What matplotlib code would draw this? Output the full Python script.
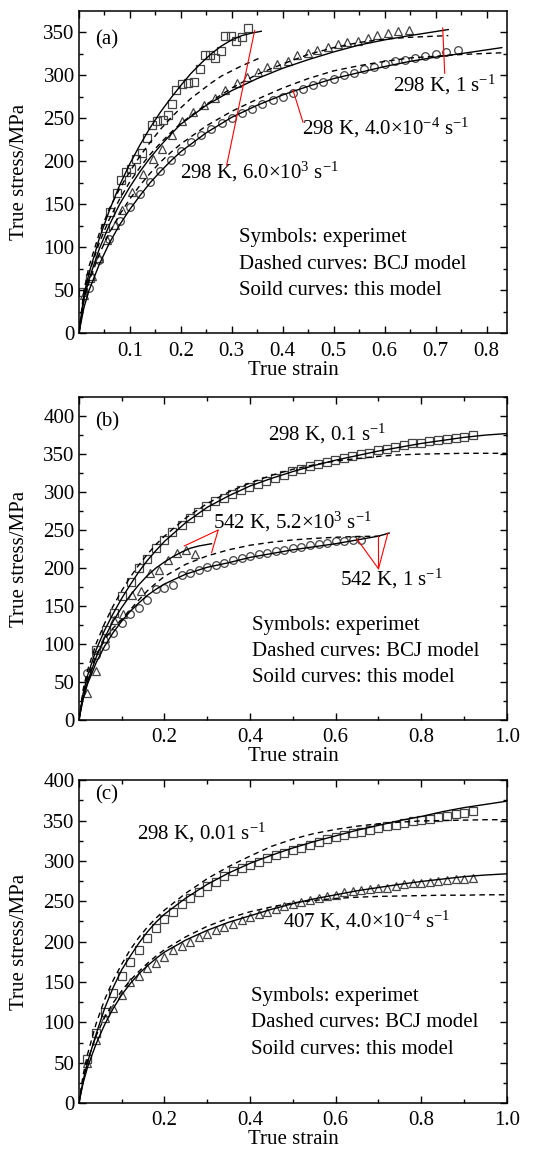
import numpy as np
import matplotlib
matplotlib.use("Agg")
import matplotlib.pyplot as plt
from matplotlib.ticker import MultipleLocator

plt.rcParams['font.family'] = ['Liberation Serif', 'DejaVu Serif']
plt.rcParams['mathtext.fontset'] = 'custom'
plt.rcParams['mathtext.rm'] = 'Liberation Serif'
plt.rcParams['mathtext.it'] = 'Liberation Serif:italic'
plt.rcParams['font.size'] = 15

# ---------------- panel (a) ----------------
a_sq_x = [0.0085, 0.022, 0.051, 0.062, 0.074, 0.082, 0.092, 0.103, 0.113, 0.123,
          0.133, 0.144, 0.154, 0.165, 0.174, 0.183, 0.19, 0.203, 0.215, 0.226,
          0.237, 0.247, 0.257, 0.268, 0.278, 0.286, 0.298, 0.309, 0.320, 0.331]
a_sq_y = [48, 64, 122, 141, 163, 178, 187, 191, 202, 210,
          227, 242, 247, 248, 254, 267, 283, 290, 291, 292,
          307, 324, 324, 320, 328, 345, 346, 340, 344, 355]

a_tri_x = [0.01, 0.025, 0.04, 0.055, 0.07, 0.084, 0.105, 0.126, 0.146, 0.164,
           0.183, 0.203, 0.224, 0.245, 0.267, 0.286, 0.311, 0.330, 0.351, 0.370,
           0.389, 0.410, 0.429, 0.449, 0.468, 0.488, 0.508, 0.527, 0.547, 0.567,
           0.586, 0.606, 0.627, 0.648]
a_tri_y = [45, 66, 88, 108, 126, 143, 164, 185, 202, 214,
           231, 247, 257, 265, 273, 283, 291, 298, 304, 309,
           313, 317, 323, 326, 329, 333, 336, 338, 340, 343,
           347, 349, 351, 353]

a_cir_x = [0.02, 0.04, 0.06, 0.08, 0.10, 0.12, 0.14, 0.16, 0.18, 0.20,
           0.22, 0.24, 0.26, 0.28, 0.30, 0.32, 0.34, 0.36, 0.38, 0.40,
           0.42, 0.44, 0.46, 0.48, 0.50, 0.52, 0.54, 0.56, 0.58, 0.60,
           0.62, 0.64, 0.66, 0.68, 0.70, 0.72, 0.745]
a_cir_y = [52, 85, 110, 130, 147, 162, 176, 189, 201, 212,
           222, 230, 237, 244, 250, 256, 261, 266, 271, 275,
           279, 284, 288, 292, 296, 300, 303, 307, 310, 313,
           316, 318, 320, 322, 325, 327, 329]

a_sq_solid_x = [0, 0.01, 0.02, 0.04, 0.06, 0.08, 0.10, 0.12, 0.14, 0.16, 0.18,
                0.20, 0.22, 0.24, 0.26, 0.28, 0.30, 0.32, 0.34, 0.358]
a_sq_solid_y = [0, 45, 70, 110, 143, 172, 197, 219, 239, 257, 273,
                288, 302, 314, 325, 334, 341, 346, 349, 351]
a_sq_dash_x = [0, 0.01, 0.02, 0.04, 0.06, 0.08, 0.10, 0.12, 0.14, 0.16, 0.18,
               0.20, 0.22, 0.24, 0.26, 0.28, 0.30, 0.32, 0.34, 0.355]
a_sq_dash_y = [0, 50, 78, 116, 145, 168, 188, 206, 222, 237, 250,
               262, 273, 282, 291, 299, 305, 311, 316, 320]

a_tri_solid_x = [0, 0.01, 0.02, 0.04, 0.06, 0.08, 0.10, 0.12, 0.14, 0.16, 0.18,
                 0.20, 0.25, 0.30, 0.35, 0.40, 0.45, 0.50, 0.55, 0.60, 0.65, 0.725]
a_tri_solid_y = [0, 40, 63, 98, 126, 150, 170, 188, 204, 218, 231,
                 243, 265, 282, 296, 308, 318, 327, 335, 341, 346, 353]
a_tri_dash_x = [0, 0.01, 0.02, 0.04, 0.06, 0.08, 0.10, 0.12, 0.14, 0.16, 0.18,
                0.20, 0.25, 0.30, 0.35, 0.40, 0.45, 0.50, 0.55, 0.60, 0.65, 0.725]
a_tri_dash_y = [0, 45, 70, 105, 133, 156, 176, 193, 208, 221, 233,
                244, 266, 285, 301, 313, 324, 332, 338, 342, 344, 346]

a_cir_solid_x = [0, 0.01, 0.02, 0.04, 0.06, 0.08, 0.10, 0.12, 0.14, 0.16, 0.18,
                 0.20, 0.25, 0.30, 0.35, 0.40, 0.45, 0.50, 0.55, 0.60, 0.65,
                 0.70, 0.75, 0.83]
a_cir_solid_y = [0, 30, 50, 80, 105, 126, 144, 160, 175, 188, 200,
                 211, 233, 251, 265, 277, 287, 296, 303, 310, 316,
                 321, 325, 332]
a_cir_dash_x = [0, 0.01, 0.02, 0.04, 0.06, 0.08, 0.10, 0.12, 0.14, 0.16, 0.18,
                0.20, 0.25, 0.30, 0.35, 0.40, 0.45, 0.50, 0.55, 0.60, 0.65,
                0.70, 0.75, 0.83]
a_cir_dash_y = [0, 38, 60, 92, 117, 138, 156, 172, 186, 199, 210,
                220, 241, 258, 272, 285, 296, 305, 311, 316, 320,
                322, 324, 326]

# ---------------- panel (b) ----------------
b_sq_x = [0.041, 0.063, 0.082, 0.101, 0.121, 0.140, 0.160, 0.180, 0.199, 0.218,
          0.240, 0.259, 0.279, 0.298, 0.318, 0.339, 0.358, 0.378, 0.398, 0.419,
          0.438, 0.458, 0.479, 0.498, 0.519, 0.540, 0.559, 0.579, 0.598, 0.619,
          0.639, 0.658, 0.678, 0.698, 0.719, 0.738, 0.759, 0.779, 0.799, 0.819,
          0.840, 0.859, 0.880, 0.900, 0.920]
b_sq_y = [92, 118, 141, 163, 182, 200, 212, 226, 237, 247,
          257, 266, 274, 281, 288, 292, 298, 303, 307, 311,
          315, 319, 323, 328, 331, 334, 337, 339, 342, 345,
          348, 350, 352, 355, 357, 359, 362, 364, 365, 367,
          368, 370, 371, 373, 375]

b_tri_x = [0.019, 0.040, 0.062, 0.083, 0.104, 0.125, 0.145, 0.166, 0.187, 0.209,
           0.230, 0.251, 0.272]
b_tri_y = [36, 65, 108, 131, 140, 165, 170, 193, 198, 210,
           220, 224, 219]

b_cir_x = [0.019, 0.04, 0.06, 0.08, 0.10, 0.12, 0.14, 0.16, 0.18, 0.20,
           0.22, 0.24, 0.26, 0.28, 0.30, 0.32, 0.34, 0.36, 0.38, 0.40,
           0.42, 0.44, 0.46, 0.48, 0.50, 0.52, 0.54, 0.56, 0.58, 0.60,
           0.62, 0.64, 0.66]
b_cir_y = [62, 85, 98, 114, 128, 140, 148, 158, 172, 174,
           178, 191, 194, 198, 201, 204, 207, 210, 213, 216,
           218, 220, 222, 224, 226, 228, 230, 232, 233, 235,
           236, 237, 237]

b_sq_solid_x = [0, 0.01, 0.02, 0.04, 0.06, 0.08, 0.10, 0.12, 0.14, 0.16, 0.18,
                0.20, 0.25, 0.30, 0.35, 0.40, 0.45, 0.50, 0.55, 0.60, 0.65,
                0.70, 0.75, 0.80, 0.85, 0.90, 0.95, 1.0]
b_sq_solid_y = [0, 35, 58, 92, 118, 140, 160, 178, 195, 210, 223,
                235, 260, 280, 295, 308, 318, 327, 335, 342, 348,
                354, 359, 364, 368, 372, 375, 377]
b_sq_dash_x = [0, 0.01, 0.02, 0.04, 0.06, 0.08, 0.10, 0.12, 0.14, 0.16, 0.18,
               0.20, 0.25, 0.30, 0.35, 0.40, 0.45, 0.50, 0.55, 0.60, 0.65,
               0.70, 0.75, 0.80, 0.90, 1.0]
b_sq_dash_y = [0, 40, 65, 100, 127, 150, 170, 188, 204, 218, 231,
               242, 266, 285, 300, 312, 322, 330, 336, 341, 344,
               347, 349, 350, 351, 351]

b_tri_solid_x = [0, 0.01, 0.02, 0.04, 0.06, 0.08, 0.10, 0.12, 0.14, 0.16, 0.18,
                 0.20, 0.22, 0.24, 0.26, 0.28, 0.31]
b_tri_solid_y = [0, 30, 50, 82, 108, 130, 148, 164, 178, 190, 200,
                 208, 215, 221, 226, 229, 232]

b_cir_solid_x = [0, 0.01, 0.02, 0.04, 0.06, 0.08, 0.10, 0.12, 0.14, 0.16, 0.18,
                 0.20, 0.25, 0.30, 0.35, 0.40, 0.45, 0.50, 0.55, 0.60, 0.65,
                 0.70, 0.725]
b_cir_solid_y = [0, 28, 47, 75, 97, 115, 130, 143, 154, 164, 172,
                 179, 192, 201, 207, 214, 219, 224, 228, 232, 237,
                 242, 246]
# BCJ curve shared by both 542 K cases
b_hot_dash_x = [0, 0.01, 0.02, 0.04, 0.06, 0.08, 0.10, 0.12, 0.14, 0.16, 0.18,
                0.20, 0.25, 0.30, 0.35, 0.40, 0.45, 0.50, 0.55, 0.60, 0.65, 0.71]
b_hot_dash_y = [0, 33, 55, 85, 106, 121, 132, 145, 158, 170, 180,
                189, 205, 216, 224, 230, 234, 237, 239, 240.5, 241.5, 242]

# ---------------- panel (c) ----------------
c_x = [0.02, 0.04, 0.06, 0.08, 0.10, 0.12, 0.14, 0.16, 0.18, 0.20,
       0.22, 0.24, 0.26, 0.28, 0.30, 0.32, 0.34, 0.36, 0.38, 0.40,
       0.42, 0.44, 0.46, 0.48, 0.50, 0.52, 0.54, 0.56, 0.58, 0.60,
       0.62, 0.64, 0.66, 0.68, 0.70, 0.72, 0.74, 0.76, 0.78, 0.80,
       0.82, 0.84, 0.86, 0.88, 0.90, 0.92]
c_sq_y = [54, 87, 113, 136, 157, 175, 190, 204, 217, 228,
          237, 246, 254, 262, 269, 274, 281, 287, 291, 295,
          299, 303, 307, 310, 313, 316, 320, 323, 327, 330,
          332, 335, 336, 338, 341, 343, 345, 347, 349, 351,
          352, 354, 356, 358, 359, 362]
c_tri_y = [50, 78, 105, 118, 134, 150, 157, 167, 174, 181,
           190, 195, 199, 206, 209, 214, 218, 222, 227, 231,
           234, 237, 241, 244, 246, 249, 251, 254, 256, 258,
           261, 263, 264, 265, 266, 267, 269, 271, 272, 273,
           274, 275, 276, 277, 278, 279]

c_solid_x = [0, 0.01, 0.02, 0.04, 0.06, 0.08, 0.10, 0.12, 0.14, 0.16, 0.18,
             0.20, 0.25, 0.30, 0.35, 0.40, 0.45, 0.50, 0.55, 0.60, 0.65,
             0.70, 0.75, 0.80, 0.85, 0.90, 0.95, 1.0]
c_sq_solid_y = [0, 28, 50, 85, 117, 143, 165, 182, 198, 212, 224,
                234, 254, 271, 285, 297, 307, 316, 324, 331, 338,
                344, 350, 355, 361, 366, 370, 374]
c_sq_dash_y = [0, 35, 60, 98, 128, 152, 172, 190, 205, 218, 229,
               239, 260, 278, 293, 306, 318, 327, 334, 339, 343,
               346, 348, 349.5, 350, 350.5, 351, 351]
c_tri_solid_y = [0, 25, 44, 73, 97, 117, 134, 148, 160, 170, 179,
                 187, 202, 214, 224, 232, 240, 247, 253, 258, 263,
                 267, 271, 274.5, 277.5, 280.5, 282.5, 284]
c_tri_dash_y = [0, 30, 52, 83, 106, 124, 139, 152, 163, 173, 182,
                190, 206, 219, 229, 237, 243, 248, 251, 253.5, 255,
                256, 256.5, 257, 257.5, 257.5, 258, 258]

LEGEND = ["Symbols: experimet", "Dashed curves: BCJ model",
          "Soild curves: this model"]
MK = dict(linestyle="none", markerfacecolor="none", markeredgecolor="#444444",
          markeredgewidth=0.9, markersize=5.5)
LINE = dict(color="black", lw=1.0)
DASH = dict(color="black", lw=1.0, linestyle=(0, (4, 3)))
RED = dict(arrowstyle="-", color="red", lw=0.8, shrinkA=0, shrinkB=0)


def style_axes(ax, xmax, ymax, xmajor, xminor, panel, legend_pos):
    ax.set_xlim(0, xmax)
    ax.set_ylim(0, ymax)
    ax.xaxis.set_major_locator(MultipleLocator(xmajor))
    ax.xaxis.set_minor_locator(MultipleLocator(xminor))
    ax.yaxis.set_major_locator(MultipleLocator(50))
    ax.yaxis.set_minor_locator(MultipleLocator(25))
    ax.xaxis.set_major_formatter(
        plt.FuncFormatter(lambda v, p: "" if abs(v) < 1e-9 else "%.1f" % v))
    ax.tick_params(which="both", direction="in", top=True, right=True,
                   labelsize=15, width=1.0)
    ax.tick_params(axis="x", pad=6)
    ax.tick_params(axis="y", pad=3)
    ax.tick_params(which="major", length=5)
    ax.tick_params(which="minor", length=3)
    for s in ax.spines.values():
        s.set_linewidth(1.1)
    ax.set_xlabel("True strain", fontsize=15, labelpad=0)
    ax.set_ylabel("True stress/MPa", fontsize=15, labelpad=10)
    ax.text(0.037, panel[1], panel[0], transform=ax.transAxes,
            fontsize=15, va="center", ha="left")
    x0, ys = legend_pos
    for t, y in zip(LEGEND, ys):
        ax.text(x0, y, t, transform=ax.transAxes, fontsize=15,
                va="center", ha="left")


fig = plt.figure(figsize=(5.33, 11.49), dpi=100)
ax_a = fig.add_axes([0.148, 0.710, 0.803, 0.280])
ax_b = fig.add_axes([0.148, 0.3734, 0.803, 0.281])
ax_c = fig.add_axes([0.148, 0.040, 0.803, 0.281])

# (a)
ax = ax_a
ax.plot(a_sq_x, a_sq_y, marker="s", **MK)
ax.plot(a_tri_x, a_tri_y, marker="^", **MK)
ax.plot(a_cir_x, a_cir_y, marker="o", **MK)
ax.plot(a_sq_solid_x, a_sq_solid_y, **LINE)
ax.plot(a_sq_dash_x, a_sq_dash_y, **DASH)
ax.plot(a_tri_solid_x, a_tri_solid_y, **LINE)
ax.plot(a_tri_dash_x, a_tri_dash_y, **DASH)
ax.plot(a_cir_solid_x, a_cir_solid_y, **LINE)
ax.plot(a_cir_dash_x, a_cir_dash_y, **DASH)
style_axes(ax, 0.84, 374, 0.1, 0.05, ("(a)", 0.913),
           (0.3745, [0.298, 0.214, 0.132]))
ax.text(0.198, 188, r"298 K, 6.0$\times$10$^{3}$ s$^{-1}$", va="center")
ax.annotate("", xy=(0.345, 352), xytext=(0.29, 195), arrowprops=RED)
ax.text(0.437, 239, r"298 K, 4.0$\times$10$^{-4}$ s$^{-1}$", va="center")
ax.annotate("", xy=(0.42, 283), xytext=(0.44, 245), arrowprops=RED)
ax.text(0.616, 289, r"298 K, 1 s$^{-1}$", va="center")
ax.annotate("", xy=(0.714, 355), xytext=(0.718, 302), arrowprops=RED)

# (b)
ax = ax_b
ax.plot(b_sq_x, b_sq_y, marker="s", **MK)
ax.plot(b_tri_x, b_tri_y, marker="^", **MK)
ax.plot(b_cir_x, b_cir_y, marker="o", **MK)
ax.plot(b_sq_solid_x, b_sq_solid_y, **LINE)
ax.plot(b_sq_dash_x, b_sq_dash_y, **DASH)
ax.plot(b_tri_solid_x, b_tri_solid_y, **LINE)
ax.plot(b_cir_solid_x, b_cir_solid_y, **LINE)
ax.plot(b_hot_dash_x, b_hot_dash_y, **DASH)
style_axes(ax, 1.0, 425, 0.2, 0.1, ("(b)", 0.924),
           (0.4035, [0.292, 0.211, 0.131]))
ax.text(0.442, 377, r"298 K, 0.1 s$^{-1}$", va="center")
ax.text(0.314, 261, r"542 K, 5.2$\times$10$^{3}$ s$^{-1}$", va="center")
for tgt in [(0.246, 229), (0.31, 220)]:
    ax.annotate("", xy=tgt, xytext=(0.3255, 250), arrowprops=RED)
ax.text(0.61, 186, r"542 K, 1 s$^{-1}$", va="center")
for tgt in [(0.65, 238), (0.70, 242), (0.722, 246)]:
    ax.annotate("", xy=tgt, xytext=(0.70, 199), arrowprops=RED)

# (c)
ax = ax_c
ax.plot(c_x, c_sq_y, marker="s", **MK)
ax.plot(c_x, c_tri_y, marker="^", **MK)
ax.plot(c_solid_x, c_sq_solid_y, **LINE)
ax.plot(c_solid_x, c_sq_dash_y, **DASH)
ax.plot(c_solid_x, c_tri_solid_y, **LINE)
ax.plot(c_solid_x, c_tri_dash_y, **DASH)
style_axes(ax, 1.0, 400, 0.2, 0.1, ("(c)", 0.954),
           (0.401, [0.33, 0.249, 0.167]))
ax.text(0.135, 335, r"298 K, 0.01 s$^{-1}$", va="center")
ax.text(0.477, 225, r"407 K, 4.0$\times$10$^{-4}$ s$^{-1}$", va="center")

fig.savefig("out.png", dpi=100)
